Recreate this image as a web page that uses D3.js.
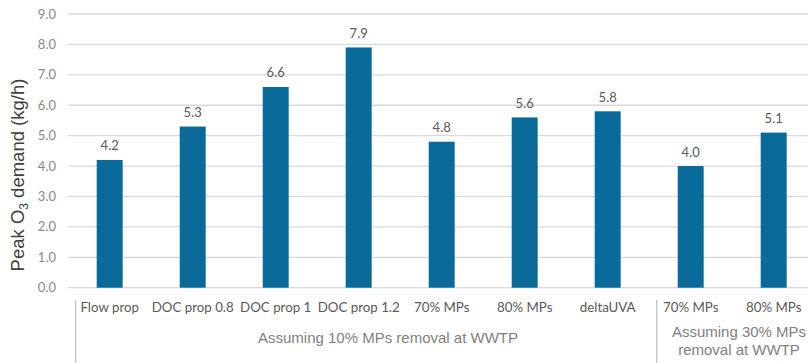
<!DOCTYPE html>
<html>
<head>
<meta charset="utf-8">
<script src="https://cdn.jsdelivr.net/npm/d3@7/dist/d3.min.js"></script>
<style>
  html, body { margin: 0; padding: 0; background: #ffffff; }
  svg { display: block; }
</style>
</head>
<body>
<script>
// Peak ozone demand per dosing strategy
const categories = ["Flow prop", "DOC prop 0.8", "DOC prop 1", "DOC prop 1.2", "70% MPs", "80% MPs", "deltaUVA", "70% MPs", "80% MPs"];
const values = [4.2, 5.3, 6.6, 7.9, 4.8, 5.6, 5.8, 4.0, 5.1];
const yTicks = [0, 1, 2, 3, 4, 5, 6, 7, 8, 9];
const groupLabels = [["Assuming 10% MPs removal at WWTP"], ["Assuming 30% MPs", "removal at WWTP"]];

const W = 808, H = 363;
const plotLeft = 68.2, plotRight = 815.2, plotTop = 14, plotBottom = 287.7;

const svg = d3.select("body").append("svg").attr("width", W).attr("height", H);

const x = d3.scaleBand()
  .domain(d3.range(categories.length))
  .range([plotLeft, plotRight])
  .paddingInner(0.687)
  .paddingOuter(0.3435);

const y = d3.scaleLinear().domain([0, 9]).range([plotBottom, plotTop]);

// horizontal gridlines
svg.append("g").selectAll("line").data(yTicks).join("line")
  .attr("x1", plotLeft).attr("x2", W)
  .attr("y1", d => y(d)).attr("y2", d => y(d))
  .attr("stroke", "#d9d9d9").attr("stroke-width", 1.3);

// y tick labels
svg.append("g").selectAll("text").data(yTicks).join("text")
  .attr("x", 56).attr("y", d => y(d)).attr("dy", "0.35em")
  .attr("text-anchor", "end")
  .attr("font-family", "Lato, 'Open Sans', sans-serif").attr("font-size", 13)
  .attr("fill", "#888888")
  .text(d => d.toFixed(1));

// y axis title
svg.append("text")
  .attr("transform", "translate(24,175) rotate(-90)")
  .attr("text-anchor", "middle")
  .attr("font-family", "'Liberation Sans', Arial, sans-serif").attr("font-size", 18.5)
  .attr("fill", "#404040")
  .call(t => {
    t.append("tspan").text("Peak O");
    t.append("tspan").attr("font-size", 12).attr("dy", 4).text("3");
    t.append("tspan").attr("dy", -4).text(" demand (kg/h)");
  });

// bars
svg.append("g").selectAll("rect").data(values).join("rect")
  .attr("x", (d, i) => x(i)).attr("width", x.bandwidth())
  .attr("y", d => y(d)).attr("height", d => plotBottom - y(d))
  .attr("fill", "#0a6a9a");

// value labels
svg.append("g").selectAll("text").data(values).join("text")
  .attr("x", (d, i) => x(i) + x.bandwidth() / 2).attr("y", d => y(d) - 9.5)
  .attr("text-anchor", "middle")
  .attr("font-family", "Lato, 'Open Sans', sans-serif").attr("font-size", 13)
  .attr("fill", "#595959")
  .text(d => d.toFixed(1));

// category labels
svg.append("g").selectAll("text").data(categories).join("text")
  .attr("x", (d, i) => x(i) + x.bandwidth() / 2).attr("y", 307).attr("dy", "0.35em")
  .attr("text-anchor", "middle")
  .attr("font-family", "Lato, 'Open Sans', sans-serif").attr("font-size", 13.3)
  .attr("fill", "#595959")
  .text(d => d);

// group separators
const step = x.step();
const sepX = [plotLeft + 7.5, plotLeft + step * 7 + 7.5];
svg.append("g").selectAll("line").data(sepX).join("line")
  .attr("x1", d => d).attr("x2", d => d)
  .attr("y1", 300).attr("y2", H)
  .attr("stroke", "#bfbfbf").attr("stroke-width", 1.2);

// group labels
const groupX = [388, 739];
const g = svg.append("g")
  .attr("font-family", "'Liberation Sans', Arial, sans-serif").attr("font-size", 15)
  .attr("fill", "#7f7f7f").attr("text-anchor", "middle");
groupLabels.forEach((lines, gi) => {
  const y0 = lines.length === 1 ? 338 : 331.7;
  lines.forEach((s, li) => {
    g.append("text").attr("x", groupX[gi]).attr("y", y0 + li * 17.6).attr("dy", "0.35em").text(s);
  });
});
</script>
</body>
</html>
